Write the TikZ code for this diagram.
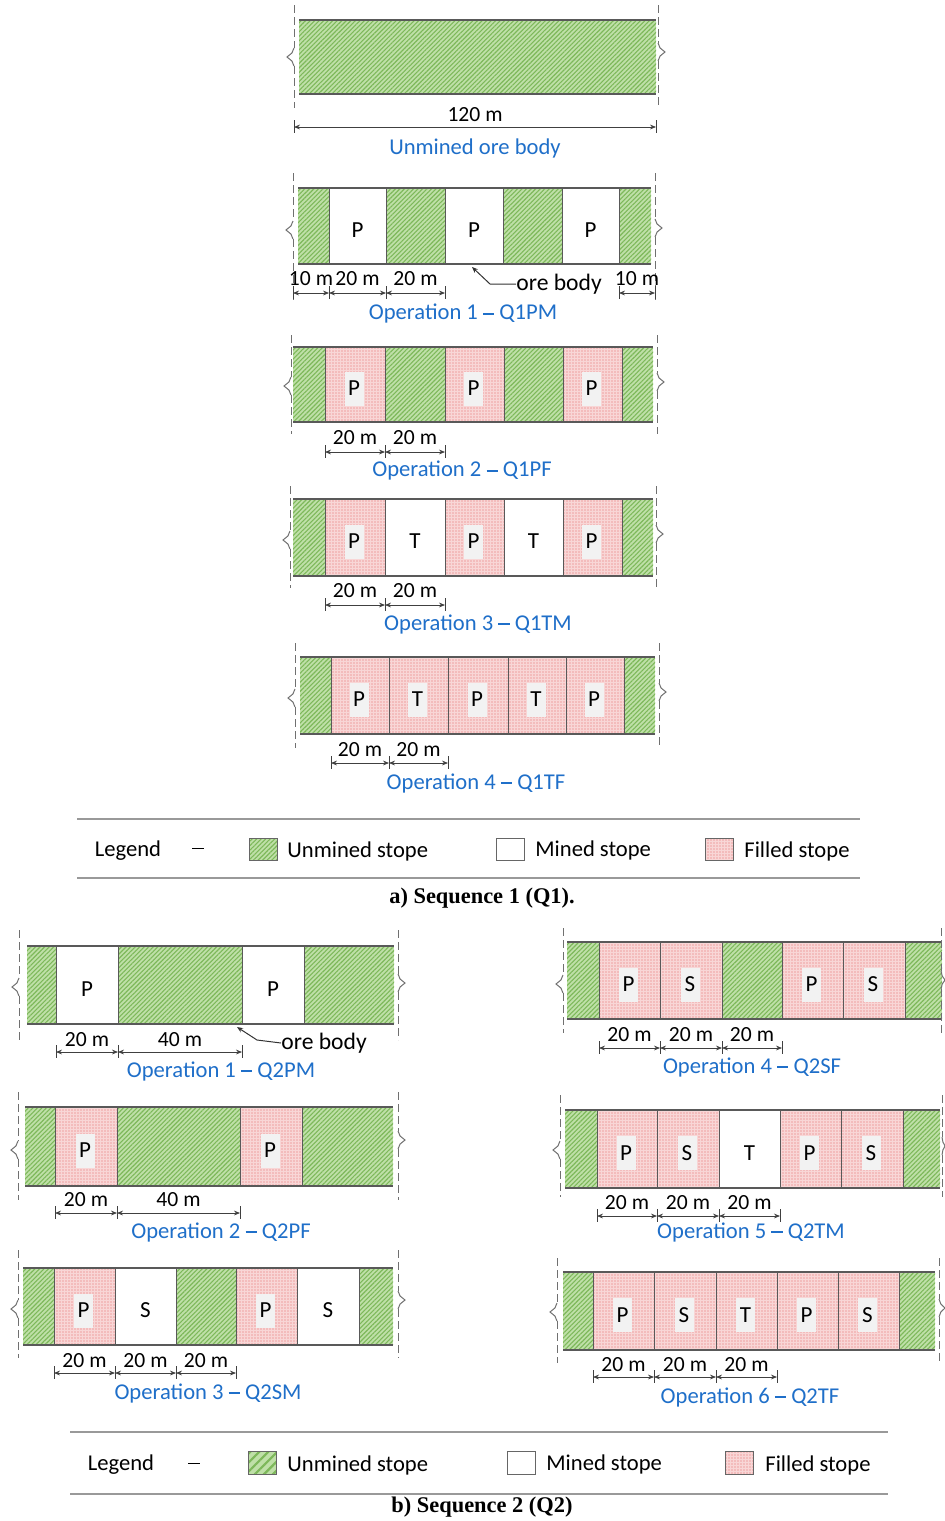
\documentclass[tikz,border=0pt]{standalone}
\usepackage{fontspec}
\setmainfont{Carlito}
\newfontfamily\capfont{Liberation Serif}
\usetikzlibrary{patterns.meta,arrows.meta}
\definecolor{greenbg}{HTML}{BFE0A8}
\definecolor{greenln}{HTML}{7DB85A}
\definecolor{pinkbg}{HTML}{F8D6D6}
\definecolor{dotred}{HTML}{E46868}
\definecolor{opblue}{HTML}{1F6FC9}
\definecolor{lngray}{HTML}{595959}
\definecolor{guidegray}{HTML}{707070}
\definecolor{boxgray}{HTML}{F2F2F2}
\newcommand\ndash{\rule[0.23em]{0.5em}{0.07em}}
\tikzset{
 unmined/.style={preaction={fill=greenbg}, pattern={Lines[angle=45,distance=1.6pt,line width=0.55pt]}, pattern color=greenln},
 unminedcoarse/.style={preaction={fill=greenbg}, pattern={Lines[angle=45,distance=3.2pt,line width=1.1pt]}, pattern color=greenln},
 minedst/.style={fill=white},
 filledst/.style={preaction={fill=pinkbg}, pattern={Dots[distance=1.5pt,radius=0.33pt]}, pattern color=dotred},
 stopeline/.style={draw=lngray, line width=0.8pt},
 sepline/.style={draw=lngray, line width=0.5pt},
 guide/.style={draw=guidegray, line width=0.5pt, dash pattern=on 4pt off 2pt},
 brk/.style={draw=guidegray, line width=0.5pt},
 dimline/.style={draw=black!75, line width=0.4pt, {Stealth[length=3pt,width=2.4pt]}-{Stealth[length=3pt,width=2.4pt]}},
 tickline/.style={draw=black!75, line width=0.4pt},
 dimtext/.style={font=\fontsize{10.8}{12}\selectfont, inner sep=0pt},
 letter/.style={font=\fontsize{11.5}{13}\selectfont, inner sep=0pt},
 letterbox/.style={letter, fill=boxgray, minimum width=9.5pt, minimum height=17pt},
 optitle/.style={font=\fontsize{11.3}{13}\selectfont, text=opblue, inner sep=0pt},
 legtext/.style={font=\fontsize{11.3}{13}\selectfont, inner sep=0pt, anchor=west},
 legcenter/.style={font=\fontsize{11.3}{13}\selectfont, inner sep=0pt},
 captiontext/.style={font=\capfont\bfseries\fontsize{11.2}{13}\selectfont, inner sep=0pt},
 legline/.style={draw=black!40, line width=0.8pt},
 legbox/.style={draw=black!60, line width=0.5pt},
 orelabel/.style={font=\fontsize{11.8}{13}\selectfont, inner sep=0pt, anchor=west},
 leader/.style={draw=black!80, line width=0.5pt, {Stealth[length=3pt,width=2.4pt]}-},
}
\newcounter{nd}
\newcommand\row[2]{\def\yt{#1}\def\yb{#2}}
\newcommand\U[2]{\path[unmined] (#1,\yt+1) rectangle (#2,\yb-1);}
\newcommand\M[3]{\path[minedst] (#1,\yt) rectangle (#2,\yb);\stepcounter{nd}\node[letter] (s\arabic{nd}) at ({(#1+#2)/2},{(\yt+\yb)/2+4}) {#3};}
\newcommand\F[3]{\path[filledst] (#1,\yt) rectangle (#2,\yb);\stepcounter{nd}\node[letterbox] (s\arabic{nd}) at ({(#1+#2)/2-1},{(\yt+\yb)/2+4}) {#3};}
\newcommand\hlines[2]{\draw[stopeline] (#1,\yt) -- (#2,\yt);\draw[stopeline] (#1,\yb) -- (#2,\yb);}
\newcommand\seps[1]{\foreach \sx in {#1} {\draw[sepline] (\sx,\yt) -- (\sx,\yb);}}
\newcommand\guide[5]{%
 \draw[guide] (#1,#2) -- (#1,#4-9);
 \draw[brk] (#1,#4-9) .. controls ({#1+0.2*(#5)},#4-6) .. ({#1+0.3*(#5)},#4-4) -- ({#1+(#5)},#4) -- ({#1+0.3*(#5)},#4+4) .. controls ({#1+0.2*(#5)},#4+6) .. (#1,#4+9);
 \draw[guide] (#1,#4+9) -- (#1,#3);}
\newcommand\dimseg[5]{%
 \stepcounter{nd}%
 \coordinate (da\arabic{nd}) at (#1,#3);
 \coordinate (db\arabic{nd}) at (#2,#3);
 \draw[tickline] (#1,#3-7) -- (#1,#3+6);
 \draw[tickline] (#2,#3-7) -- (#2,#3+6);
 \draw[dimline] (da\arabic{nd}) -- (db\arabic{nd});
 \node[dimtext] (dl\arabic{nd}) at ({(#1+#2)/2},#4) {#5};}
\begin{document}
\begin{tikzpicture}[x=0.5pt,y=-0.5pt]
\fill[white] (0,0) rectangle (945,1521);
\useasboundingbox (0,0) rectangle (945,1521);

% ---------- Sequence 1 ----------
% unmined ore body
\row{20}{94}
\U{299}{656}
\hlines{299}{656}
\guide{294}{5}{108}{57}{-7}
\guide{658}{5}{108}{52}{7}
\dimseg{294}{656}{127}{115}{120 m}
\node[optitle] (t0) at (475,148) {Unmined ore body};

% Operation 1 - Q1PM
\row{188}{264}
\U{298}{329}\M{329}{386}{P}\U{386}{445}\M{445}{503}{P}\U{503}{562}\M{562}{619}{P}\U{619}{651}
\hlines{298}{651}
\seps{329,386,445,503,562,619}
\guide{293}{173}{300}{230}{-7}
\guide{655}{173}{300}{228}{7}
\dimseg{293}{329}{293}{279}{10 m}
\dimseg{329}{386}{293}{279}{20 m}
\dimseg{386}{445}{293}{279}{20 m}
\dimseg{619}{655}{293}{279}{10 m}
\coordinate (ob1) at (472,267);
\node[orelabel] (ore1) at (516,284) {ore body};
\draw[leader] (ob1) -- (490,284) -- (ore1.west);
\node[optitle] (t1) at (463,314) {Operation 1 \ndash\ Q1PM};

% Operation 2 - Q1PF
\row{347}{422}
\U{293}{325}\F{325}{385}{P}\U{385}{445}\F{445}{504}{P}\U{504}{563}\F{563}{622}{P}\U{622}{653}
\hlines{293}{653}
\seps{325,385,445,504,563,622}
\guide{291}{335}{434}{386}{-7}
\guide{657}{335}{434}{382}{7}
\dimseg{325}{385}{452}{438}{20 m}
\dimseg{385}{445}{452}{438}{20 m}
\node[optitle] (t2) at (462,471) {Operation 2 \ndash\ Q1PF};

% Operation 3 - Q1TM
\row{499}{576}
\U{293}{325}\F{325}{385}{P}\M{385}{445}{T}\F{445}{504}{P}\M{504}{563}{T}\F{563}{622}{P}\U{622}{653}
\hlines{293}{653}
\seps{325,385,445,504,563,622}
\guide{290}{486}{588}{540}{-7}
\guide{656}{486}{588}{534}{7}
\dimseg{325}{385}{605}{591}{20 m}
\dimseg{385}{445}{605}{591}{20 m}
\node[optitle] (t3) at (478,624) {Operation 3 \ndash\ Q1TM};

% Operation 4 - Q1TF
\row{657}{734}
\U{300}{331}\F{331}{389}{P}\F{389}{448}{T}\F{448}{508}{P}\F{508}{566}{T}\F{566}{624}{P}\U{624}{655}
\hlines{300}{655}
\seps{331,389,448,508,566,624}
\guide{295}{643}{748}{698}{-7}
\guide{659}{643}{748}{692}{7}
\dimseg{331}{389}{763}{750}{20 m}
\dimseg{389}{448}{763}{750}{20 m}
\node[optitle] (t4) at (476,783) {Operation 4 \ndash\ Q1TF};

% Legend 1
\draw[legline] (77,819) -- (860,819);
\draw[legline] (77,878) -- (860,878);
\node[legcenter] (lg1) at (128,851) {Legend};
\node[legcenter] (ld1) at (198,851) {\ndash};
\path[unmined, legbox] (249,838) rectangle (277,860);
\node[legtext] (lu1) at (287,851) {Unmined stope};
\path[legbox, fill=white] (496,838) rectangle (524,860);
\node[legtext] (lm1) at (535,850) {Mined stope};
\path[filledst, legbox] (705,838) rectangle (733,860);
\node[legtext] (lf1) at (744,851) {Filled stope};
\node[captiontext] (cap1) at (482,898) {a) Sequence 1 (Q1).};

% ---------- Sequence 2 ----------
% Operation 1 - Q2PM
\row{946}{1024}
\U{27}{56}\M{56}{118}{P}\U{118}{242}\M{242}{304}{P}\U{304}{394}
\hlines{27}{394}
\seps{56,118,242,304}
\guide{19}{930}{1040}{987}{-7}
\guide{398}{930}{1040}{983}{7}
\dimseg{56}{118}{1052}{1040}{20 m}
\dimseg{118}{242}{1052}{1040}{40 m}
\coordinate (ob2) at (237,1027);
\node[orelabel] (ore2) at (281,1043) {ore body};
\draw[leader] (ob2) -- (257,1040) -- (ore2.west);
\node[optitle] (t5) at (221,1071) {Operation 1 \ndash\ Q2PM};

% Operation 2 - Q2PF
\row{1107}{1186}
\U{25}{55}\F{55}{117}{P}\U{117}{240}\F{240}{302}{P}\U{302}{393}
\hlines{25}{393}
\seps{55,117,240,302}
\guide{18}{1092}{1200}{1150}{-7}
\guide{398}{1092}{1200}{1140}{7}
\dimseg{55}{117}{1213}{1200}{20 m}
\dimseg{117}{240}{1213}{1200}{40 m}
\node[optitle] (t6) at (221,1232) {Operation 2 \ndash\ Q2PF};

% Operation 3 - Q2SM
\row{1268}{1345}
\U{23}{54}\F{54}{115}{P}\M{115}{176}{S}\U{176}{236}\F{236}{297}{P}\M{297}{359}{S}\U{359}{393}
\hlines{23}{393}
\seps{54,115,176,236,297,359}
\guide{18}{1250}{1358}{1309}{-7}
\guide{398}{1250}{1358}{1300}{7}
\dimseg{54}{115}{1373}{1361}{20 m}
\dimseg{115}{176}{1373}{1361}{20 m}
\dimseg{176}{236}{1373}{1361}{20 m}
\node[optitle] (t7) at (208,1393) {Operation 3 \ndash\ Q2SM};

% Operation 4 - Q2SF
\row{942}{1019}
\U{567}{599}\F{599}{660}{P}\F{660}{722}{S}\U{722}{782}\F{782}{843}{P}\F{843}{905}{S}\U{905}{942}
\hlines{567}{942}
\seps{599,660,722,782,843,905}
\guide{563}{928}{1033}{984}{-7}
\guide{941}{928}{1033}{980}{4}
\dimseg{599}{660}{1048}{1035}{20 m}
\dimseg{660}{722}{1048}{1035}{20 m}
\dimseg{722}{782}{1048}{1035}{20 m}
\node[optitle] (t8) at (752,1067) {Operation 4 \ndash\ Q2SF};

% Operation 5 - Q2TM
\row{1110}{1188}
\U{565}{597}\F{597}{657}{P}\F{657}{719}{S}\M{719}{780}{T}\F{780}{841}{P}\F{841}{903}{S}\U{903}{940}
\hlines{565}{940}
\seps{597,657,719,780,841,903}
\guide{560}{1095}{1197}{1150}{-7}
\guide{942}{1095}{1197}{1146}{3}
\dimseg{597}{657}{1216}{1203}{20 m}
\dimseg{657}{719}{1216}{1203}{20 m}
\dimseg{719}{780}{1216}{1203}{20 m}
\node[optitle] (t9) at (751,1232) {Operation 5 \ndash\ Q2TM};

% Operation 6 - Q2TF
\row{1272}{1350}
\U{563}{593}\F{593}{654}{P}\F{654}{716}{S}\F{716}{777}{T}\F{777}{838}{P}\F{838}{899}{S}\U{899}{935}
\hlines{563}{935}
\seps{593,654,716,777,838,899}
\guide{557}{1258}{1363}{1312}{-7}
\guide{939}{1258}{1363}{1308}{6}
\dimseg{593}{654}{1377}{1365}{20 m}
\dimseg{654}{716}{1377}{1365}{20 m}
\dimseg{716}{777}{1377}{1365}{20 m}
\node[optitle] (t10) at (750,1397) {Operation 6 \ndash\ Q2TF};

% Legend 2
\draw[legline] (70,1432) -- (888,1432);
\draw[legline] (70,1494) -- (888,1494);
\node[legcenter] (lg2) at (121,1465) {Legend};
\node[legcenter] (ld2) at (194,1466) {\ndash};
\path[unminedcoarse, legbox] (248,1451) rectangle (276,1474);
\node[legtext] (lu2) at (287,1465) {Unmined stope};
\path[legbox, fill=white] (507,1451) rectangle (535,1474);
\node[legtext] (lm2) at (546,1464) {Mined stope};
\path[filledst, legbox] (725,1451) rectangle (753,1474);
\node[legtext] (lf2) at (765,1465) {Filled stope};
\node[captiontext] (cap2) at (482,1507) {b) Sequence 2 (Q2)};
\end{tikzpicture}
\end{document}
